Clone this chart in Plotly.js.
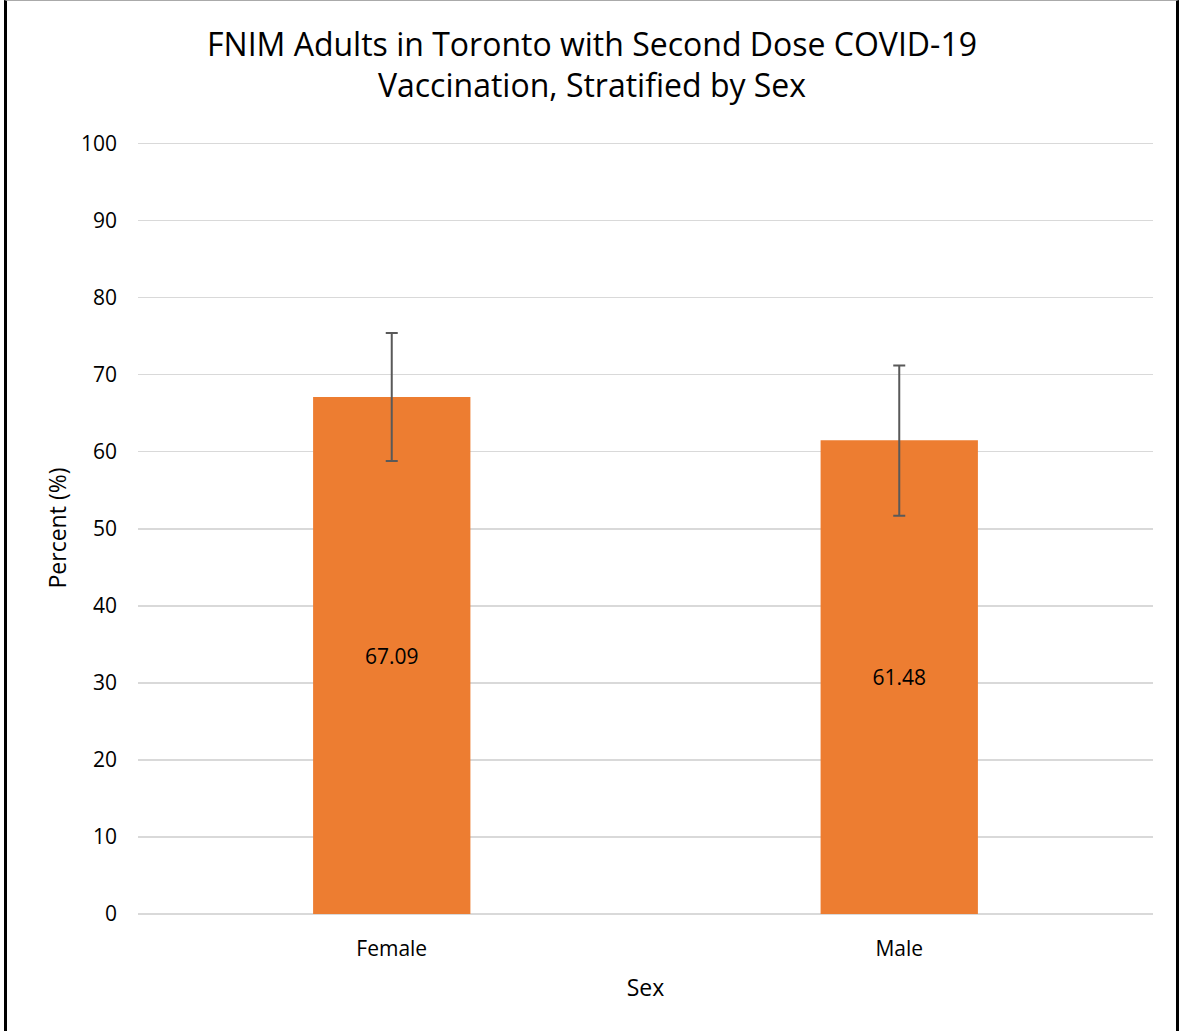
<!DOCTYPE html>
<html>
<head>
<meta charset="utf-8">
<script src="https://cdn.plot.ly/plotly-3.0.1.min.js"></script>
<style>
  html, body { margin: 0; padding: 0; background: #fff; }
  #frame { position: absolute; left: 0; top: 0; width: 1184px; height: 1031px; }
  #chart { position: absolute; left: 0; top: 0; width: 1184px; height: 1031px; }
  #border { position: absolute; left: 4px; top: 0; width: 1175px; height: 1031px;
            border-left: 3px solid #000; border-right: 3px solid #000; border-top: 1px solid #aaa;
            box-sizing: border-box; pointer-events: none; }
</style>
</head>
<body>
<div id="frame">
  <div id="chart"></div>
  <div id="border"></div>
</div>
<script>
const categories = ["Female", "Male"];
const percentValues = [67.09, 61.48];
const upperCI = [75.4, 71.2];
const lowerCI = [58.8, 51.7];
const valueLabels = ["67.09", "61.48"];
const yTickValues = [0, 10, 20, 30, 40, 50, 60, 70, 80, 90, 100];

const errPlus = percentValues.map((v, i) => upperCI[i] - v);
const errMinus = percentValues.map((v, i) => v - lowerCI[i]);

const font = "Open Sans, Noto Sans, Liberation Sans, sans-serif";

const trace = {
  type: "bar",
  x: categories,
  y: percentValues,
  text: valueLabels,
  textposition: "inside",
  insidetextanchor: "middle",
  textfont: { family: font, size: 21, color: "#000" },
  marker: { color: "#ED7D31", line: { width: 0 } },
  error_y: {
    type: "data",
    symmetric: false,
    array: errPlus,
    arrayminus: errMinus,
    color: "#595959",
    thickness: 2,
    width: 6
  },
  hoverinfo: "none"
};

const layout = {
  width: 1184,
  height: 1031,
  margin: { l: 138, r: 31, t: 141.5, b: 116.5 },
  paper_bgcolor: "#fff",
  plot_bgcolor: "#fff",
  bargap: 0.69,
  showlegend: false,
  font: { family: font, color: "#000" },
  title: {
    text: "FNIM Adults in Toronto with Second Dose COVID-19<br>Vaccination, Stratified by Sex",
    font: { family: font, size: 32, color: "#000" },
    x: 0.5, xanchor: "center",
    y: 0.946, yanchor: "middle", yref: "container"
  },
  xaxis: {
    type: "category",
    tickfont: { family: font, size: 21, color: "#000" },
    ticks: "",
    ticklabelstandoff: 20,
    showgrid: false,
    showline: false,
    zeroline: false,
    title: { text: "Sex", font: { family: font, size: 23, color: "#000" }, standoff: 18 }
  },
  yaxis: {
    range: [0, 100.2],
    tickvals: yTickValues,
    ticktext: yTickValues.map(String),
    tickfont: { family: font, size: 21, color: "#000" },
    ticks: "",
    ticklabelstandoff: 20,
    showgrid: true,
    gridcolor: "#d9d9d9",
    gridwidth: 1.5,
    zeroline: true,
    zerolinecolor: "#d9d9d9",
    zerolinewidth: 1.5,
    showline: false,
    title: { text: "Percent (%)", font: { family: font, size: 23, color: "#000" }, standoff: 7 }
  }
};

Plotly.newPlot("chart", [trace], layout, { displayModeBar: false, staticPlot: true });
</script>
</body>
</html>
